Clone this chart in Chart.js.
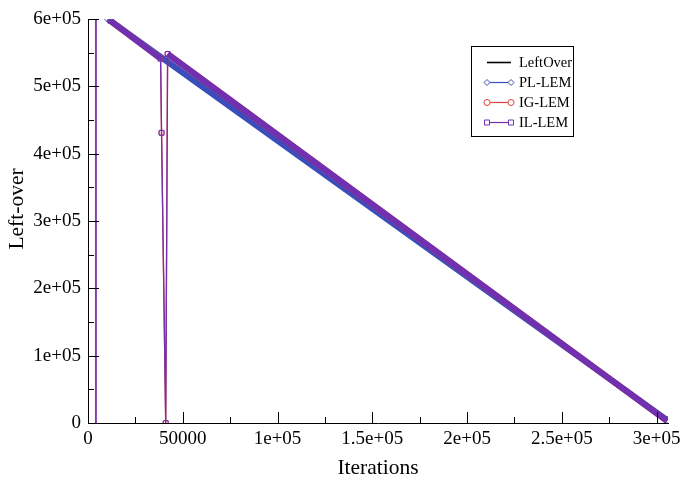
<!DOCTYPE html>
<html>
<head>
<meta charset="utf-8">
<script src="https://cdn.jsdelivr.net/npm/chart.js@4.4.1/dist/chart.umd.min.js"></script>
<style>
  html, body { margin: 0; padding: 0; background: #fff; }
  #wrap { width: 686px; height: 481px; }
</style>
</head>
<body>
<div id="wrap"><canvas id="chart" width="686" height="481"></canvas></div>
<script>
// values: x = iterations, y = left-over
const seriesNames = ['LeftOver', 'PL-LEM', 'IG-LEM', 'IL-LEM'];

const leftOverX = [10500, 305500];
const leftOverY = [600000, 4000];

const plX = [10500, 305500];
const plY = [600000, 4500];

const igX = [4000, 4000, 8000, 12000, 38300, 38800, 41000, 42000, 305500];
const igY = [0, 600000, null, 597000, 541500, 431000, 0, 548000, 3000];

const ilX = [4300, 4300, 8000, 12000, 38300, 38800, 41000, 42000, 305500];
const ilY = [0, 600000, null, 597000, 541000, 431000, 0, 548000, 3000];

const xTicks = [0, 50000, 100000, 150000, 200000, 250000, 300000];
const xTickLabels = ['0', '50000', '1e+05', '1.5e+05', '2e+05', '2.5e+05', '3e+05'];
const xMinorTicks = [25000, 75000, 125000, 175000, 225000, 275000];

const yTicks = [0, 100000, 200000, 300000, 400000, 500000, 600000];
const yTickLabels = ['0', '1e+05', '2e+05', '3e+05', '4e+05', '5e+05', '6e+05'];
const yMinorTicks = [50000, 150000, 250000, 350000, 450000, 550000];

const FONT = "'Liberation Serif', 'Times New Roman', serif";

function toPoints(xs, ys) {
  return xs.map((x, i) => ({ x: x, y: ys[i] }));
}

// long diagonal runs are drawn thick (dense markers in the original), jumps thin
const segWidth = ctx => Math.abs(ctx.p1.parsed.x - ctx.p0.parsed.x) > 5000 ? 6 : 1.3;

function series(name, xs, ys, color, style, order, radius) {
  const gap = ys.indexOf(null);
  return {
    label: name,
    data: toPoints(xs, ys),
    borderColor: color,
    borderWidth: 1.3,
    pointStyle: style,
    pointRadius: ctx => (style && ctx.dataIndex > gap) ? radius : 0,
    pointBorderColor: color,
    pointBackgroundColor: 'rgba(255,255,255,0)',
    pointBorderWidth: 1,
    segment: { borderWidth: segWidth },
    spanGaps: false,
    order: order
  };
}

const datasets = [
  series(seriesNames[0], leftOverX, leftOverY, '#000000', false, 4, 0),
  series(seriesNames[1], plX, plY, '#3a4dbb', 'rectRot', 3, 3.5),
  series(seriesNames[2], igX, igY, '#e0413a', 'circle', 2, 2.7),
  series(seriesNames[3], ilX, ilY, '#7030b0', 'rect', 1, 3.5)
];
datasets[0].segment = { borderWidth: 1 };

function drawMarker(ctx, style, x, y, color) {
  ctx.save();
  ctx.strokeStyle = color;
  ctx.fillStyle = '#fff';
  ctx.lineWidth = 1;
  ctx.beginPath();
  if (style === 'rectRot') {
    ctx.moveTo(x, y - 3); ctx.lineTo(x + 3, y); ctx.lineTo(x, y + 3); ctx.lineTo(x - 3, y); ctx.closePath();
  } else if (style === 'circle') {
    ctx.arc(x, y, 3, 0, Math.PI * 2);
  } else if (style === 'rect') {
    ctx.rect(x - 2.5, y - 2.5, 5, 5);
  }
  ctx.fill();
  ctx.stroke();
  ctx.restore();
}

const decorations = {
  id: 'decorations',
  afterDatasetsDraw(chart) {
    const { ctx, chartArea: a, scales: { x, y } } = chart;
    ctx.save();
    ctx.strokeStyle = '#000';
    ctx.lineWidth = 1;
    ctx.beginPath();
    const xTick = (v, len) => {
      const px = Math.round(x.getPixelForValue(v)) + 0.5;
      ctx.moveTo(px, a.bottom); ctx.lineTo(px, a.bottom - len);
    };
    const yTick = (v, len) => {
      const py = Math.round(y.getPixelForValue(v)) + 0.5;
      ctx.moveTo(a.left, py); ctx.lineTo(a.left + len, py);
    };
    xTicks.forEach(v => xTick(v, 11));
    xMinorTicks.forEach(v => xTick(v, 6));
    yTicks.forEach(v => yTick(v, 11));
    yMinorTicks.forEach(v => yTick(v, 6));
    ctx.stroke();

    // axis titles
    ctx.fillStyle = '#000';
    ctx.font = '21.5px ' + FONT;
    ctx.textAlign = 'center';
    ctx.textBaseline = 'alphabetic';
    ctx.fillText('Iterations', (a.left + a.right) / 2, 474);
    ctx.save();
    ctx.translate(23, 209);
    ctx.rotate(-Math.PI / 2);
    ctx.fillText('Left-over', 0, 0);
    ctx.restore();

    // legend box
    ctx.fillStyle = '#fff';
    ctx.fillRect(471.5, 46.5, 102, 90);
    ctx.strokeRect(471.5, 46.5, 102, 90);
    ctx.font = '14.5px ' + FONT;
    ctx.textAlign = 'left';
    ctx.textBaseline = 'middle';
    chart.data.datasets.forEach((ds, i) => {
      const ry = 62.5 + i * 20;
      ctx.strokeStyle = ds.borderColor;
      ctx.lineWidth = i === 0 ? 1.6 : 1.2;
      ctx.beginPath();
      ctx.moveTo(487, ry); ctx.lineTo(511, ry);
      ctx.stroke();
      if (ds.pointStyle) {
        drawMarker(ctx, ds.pointStyle, 487, ry, ds.borderColor);
        drawMarker(ctx, ds.pointStyle, 511, ry, ds.borderColor);
      }
      ctx.fillStyle = '#000';
      ctx.fillText(ds.label, 519, ry + 1);
    });
    ctx.restore();
  }
};

new Chart(document.getElementById('chart'), {
  type: 'line',
  data: { datasets: datasets },
  options: {
    responsive: false,
    animation: false,
    layout: { padding: { left: 0, top: 19, right: 18, bottom: 0 } },
    plugins: { legend: { display: false }, tooltip: { enabled: false } },
    scales: {
      x: {
        type: 'linear',
        min: 0,
        max: 306000,
        grid: { display: false, drawTicks: false },
        border: { display: true, color: '#000', width: 1 },
        afterBuildTicks: s => { s.ticks = xTicks.map(v => ({ value: v })); },
        afterFit: s => { s.height = 58; },
        ticks: {
          padding: 5,
          maxRotation: 0,
          autoSkip: false,
          color: '#000',
          font: { family: FONT, size: 19 },
          callback: (v) => xTickLabels[xTicks.indexOf(v)]
        }
      },
      y: {
        type: 'linear',
        min: 0,
        max: 600000,
        grid: { display: false, drawTicks: false },
        border: { display: true, color: '#000', width: 1 },
        afterBuildTicks: s => { s.ticks = yTicks.map(v => ({ value: v })); },
        afterFit: s => { s.width = 88; },
        ticks: {
          padding: 7,
          autoSkip: false,
          color: '#000',
          font: { family: FONT, size: 19 },
          callback: (v) => yTickLabels[yTicks.indexOf(v)]
        }
      }
    }
  },
  plugins: [decorations]
});
</script>
</body>
</html>
